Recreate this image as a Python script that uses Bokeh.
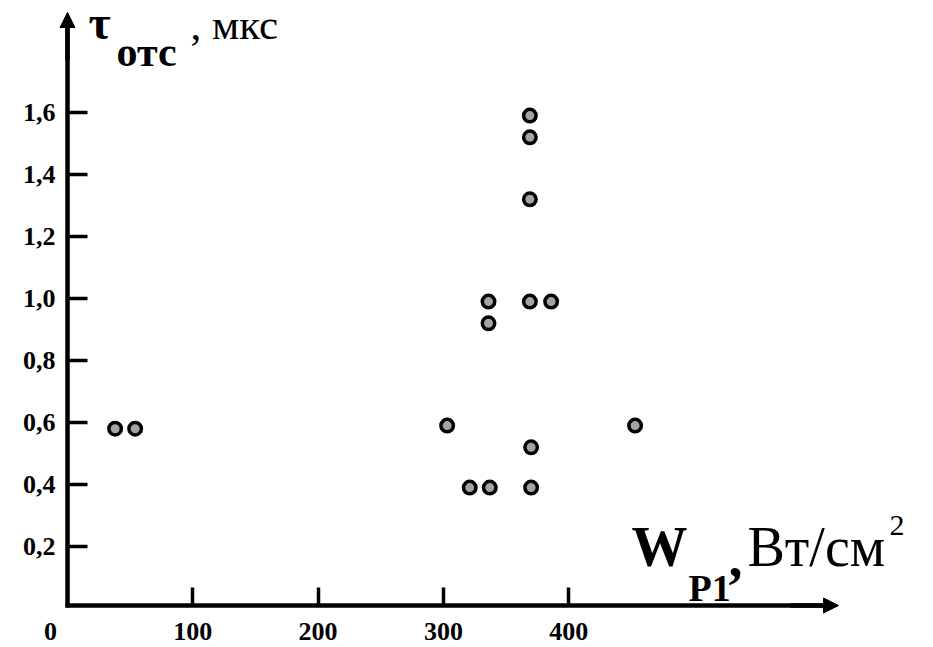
from bokeh.plotting import figure
from bokeh.models import Range1d, FixedTicker, Arrow, NormalHead, LinearAxis
from bokeh.core.properties import value
from bokeh.embed import file_html
from bokeh.resources import INLINE

# ---- data ----
w_p1 = [38, 54, 303, 321, 337, 336, 336, 369, 369, 369, 369, 386, 370, 370, 453]
tau = [0.58, 0.58, 0.59, 0.39, 0.39, 0.99, 0.92, 1.59, 1.52, 1.32, 0.99, 0.99, 0.52, 0.39, 0.59]

x_ticks = [100, 200, 300, 400]
y_ticks = [0.2, 0.4, 0.6, 0.8, 1.0, 1.2, 1.4, 1.6]
y_tick_labels = ["0,2", "0,4", "0,6", "0,8", "1,0", "1,2", "1,4", "1,6"]

W, H = 933, 647
SX = 1.253          # px per x unit
SY = 310.0          # px per y unit
X_START = -67 / SX
X_END = X_START + W / SX
Y_TOP = 608 / SY
Y_BOTTOM = Y_TOP - H / SY

SERIF = "Liberation Serif"


def dx(px):
    return X_START + px / SX


def dy(py):
    return Y_TOP - py / SY


p = figure(width=W, height=H, output_backend="svg", toolbar_location=None,
           x_range=Range1d(X_START, X_END), y_range=Range1d(Y_BOTTOM, Y_TOP),
           x_axis_location=None, y_axis_location=None, min_border=0)
p.outline_line_color = None
p.xgrid.visible = False
p.ygrid.visible = False
p.background_fill_color = "white"
p.border_fill_color = "white"

x_axis_y = dy(605)
x_axis = LinearAxis(fixed_location=x_axis_y, bounds=(dx(65), dx(830)),
                    ticker=FixedTicker(ticks=x_ticks))
y_axis = LinearAxis(fixed_location=0, bounds=(dy(607), dy(20)),
                    ticker=FixedTicker(ticks=y_ticks))
y_axis.major_label_overrides = {t: s for t, s in zip(y_ticks, y_tick_labels)}

for ax in (x_axis, y_axis):
    ax.axis_line_width = 4.5
    ax.axis_line_color = "black"
    ax.major_tick_line_width = 3.5
    ax.major_tick_line_color = "black"
    ax.major_tick_out = 0
    ax.minor_tick_in = 0
    ax.minor_tick_out = 0
    ax.major_label_text_font = SERIF
    ax.major_label_text_font_style = "bold"
    ax.major_label_text_font_size = "26px"
    ax.major_label_text_color = "black"

x_axis.major_tick_in = 18
x_axis.major_label_standoff = 17
y_axis.major_tick_in = 20
y_axis.major_label_standoff = 12

p.add_layout(x_axis, "below")
p.add_layout(y_axis, "left")

# arrow heads at axis ends
p.add_layout(Arrow(end=NormalHead(size=15, fill_color="black", line_color="black"),
                   x_start=0, y_start=dy(60), x_end=0, y_end=dy(12),
                   line_width=4.5, line_color="black"))
p.add_layout(Arrow(end=NormalHead(size=15, fill_color="black", line_color="black"),
                   x_start=dx(790), y_start=x_axis_y, x_end=dx(838), y_end=x_axis_y,
                   line_width=4.5, line_color="black"))

p.scatter(w_p1, tau, size=12.5, marker="circle", fill_color="#a3a3a3",
          line_color="black", line_width=3.5)


def lab(text, px, py, size, style="normal", align="left"):
    # py is the intended baseline; compensate the renderer's baseline shift
    p.text(x=[dx(px)], y=[dy(py - 0.33 * size)], text=[text], text_font=value(SERIF),
           text_font_style=style, text_font_size=f"{size}px",
           text_align=align, text_baseline="alphabetic", text_color="black")


# x origin label
lab("0", 50, 640, 26, "bold", "center")

# y-axis title
lab("τ", 88, 38, 48, "bold")
lab("отс", 116, 65, 42, "bold")
lab(", мкс", 190, 38, 43)

# x-axis title
lab("W", 631, 565, 56, "bold")
lab("P1", 688, 600, 38, "bold")
lab(",", 728, 575, 56, "bold")
lab("Вт/см", 747, 565, 56)
lab("2", 889, 535, 30)

open("out.html", "w").write(file_html(p, INLINE))
